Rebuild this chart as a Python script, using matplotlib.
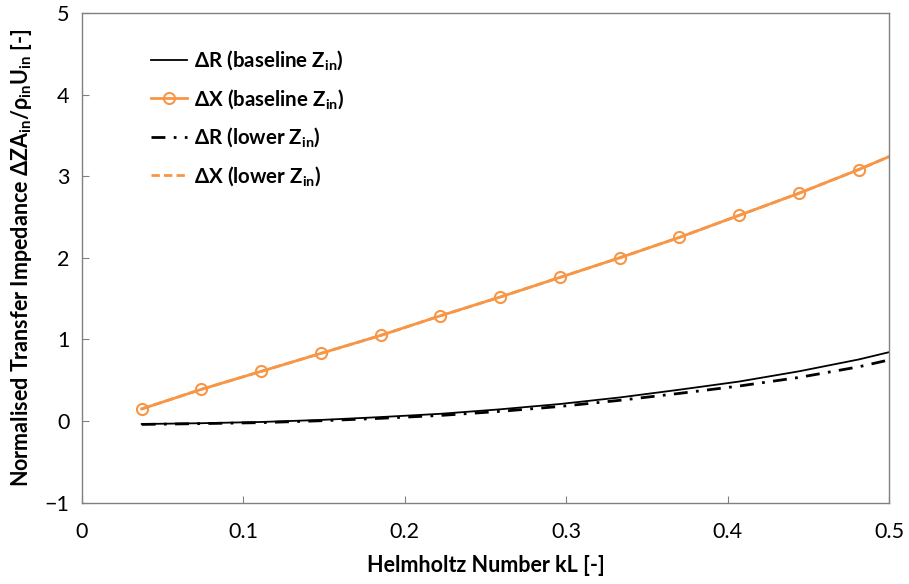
import matplotlib.pyplot as plt

plt.rcParams['font.family'] = ['Lato', 'DejaVu Sans']
plt.rcParams['mathtext.fontset'] = 'custom'
plt.rcParams['mathtext.rm'] = 'Lato:bold'
plt.rcParams['mathtext.default'] = 'rm'

# Helmholtz number samples (last point is the axis end, no marker)
kL = [0.037, 0.074, 0.111, 0.148, 0.185, 0.222, 0.259, 0.296, 0.333, 0.370,
      0.407, 0.444, 0.481, 0.5]

dR_base = [-0.035, -0.025, -0.01, 0.015, 0.05, 0.09, 0.145, 0.21, 0.29, 0.385,
           0.485, 0.61, 0.755, 0.845]
dX_base = [0.15, 0.39, 0.61, 0.83, 1.05, 1.29, 1.52, 1.76, 2.00, 2.25,
           2.52, 2.79, 3.08, 3.24]
dR_low = [-0.04, -0.03, -0.018, 0.005, 0.035, 0.07, 0.12, 0.18, 0.255, 0.34,
          0.43, 0.535, 0.665, 0.75]
dX_low = [0.15, 0.39, 0.61, 0.83, 1.05, 1.29, 1.52, 1.76, 2.00, 2.25,
          2.52, 2.79, 3.08, 3.24]

xticks = [0, 0.1, 0.2, 0.3, 0.4, 0.5]
yticks = [-1, 0, 1, 2, 3, 4, 5]

orange = '#F79646'

fig = plt.figure(figsize=(9.09, 5.84), dpi=100)
ax = fig.add_axes([0.0902, 0.139, 0.888, 0.839])

ax.plot(kL, dR_base, color='black', lw=1.3, label=r'ΔR (baseline Z$_{in}$)')
ax.plot(kL, dX_base, color=orange, lw=2, marker='o', markersize=8,
        markerfacecolor='none', markeredgewidth=1.5, markevery=range(13),
        label=r'ΔX (baseline Z$_{in}$)')
ax.plot(kL, dR_low, color='black', lw=2, dashes=(5, 3, 1, 3),
        label=r'ΔR (lower Z$_{in}$)')
ax.plot(kL, dX_low, color=orange, lw=2, dashes=(3, 1.5),
        label=r'ΔX (lower Z$_{in}$)')

ax.set_xlim(0, 0.5)
ax.set_ylim(-1, 5)
ax.set_xticks(xticks)
ax.set_xticklabels(['0', '0.1', '0.2', '0.3', '0.4', '0.5'])
ax.set_yticks(yticks)
ax.tick_params(direction='in', length=5, color='#808080', labelsize=15.5, pad=9)
ax.tick_params(axis='x', pad=14)
for s in ax.spines.values():
    s.set_color('#808080')
    s.set_linewidth(1)

ax.set_xlabel('Helmholtz Number kL [-]', fontsize=15.5, fontweight='bold', labelpad=9)
ax.set_ylabel(r'Normalised Transfer Impedance ΔZA$_{in}$/ρ$_{in}$U$_{in}$ [-]',
              fontsize=15.5, fontweight='bold', labelpad=8)

leg = ax.legend(loc='upper left', bbox_to_anchor=(0.062, 0.965), frameon=False,
                prop={'size': 14.8, 'weight': 'bold'}, handlelength=1.75,
                labelspacing=0.72, handletextpad=0.35)

fig.savefig('out.png', dpi=100)
